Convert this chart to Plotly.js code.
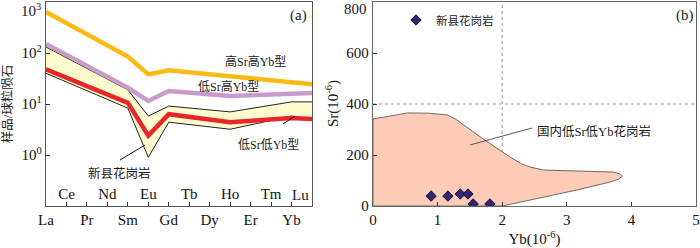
<!DOCTYPE html>
<html><head><meta charset="utf-8">
<script src="https://cdn.plot.ly/plotly-3.0.1.min.js"></script>
<style>html,body{margin:0;padding:0;background:#fff}#chart{width:700px;height:248px}</style>
</head><body><div id="chart"></div>
<script>
// ---- Panel (a): chondrite-normalised REE patterns ----
const elements = ['La','Ce','Pr','Nd','Sm','Eu','Gd','Tb','Dy','Ho','Er','Tm','Yb','Lu'];
const bottomLabels = ['La','Pr','Sm','Gd','Dy','Er','Yb'];
const insideLabels = ['Ce','Nd','Eu','Tb','Ho','Tm','Lu'];
const yTickVals = [0.1, 1, 10, 100, 1000];
const yTickText = ['10<sup>-1</sup>','10<sup>0</sup>','10<sup>1</sup>','10<sup>2</sup>',''];
const yTopLabel = '10<sup>3</sup>';

const highSrHighYbEl = ['La','Sm','Eu','Gd','Lu'];
const highSrHighYbVal = [640, 85, 38, 46, 24.5];
const lowSrHighYbEl = ['La','Sm','Eu','Gd','Ho','Lu'];
const lowSrHighYbVal = [150, 21, 11.5, 18, 14.4, 16.5];
const bandUpperEl = ['La','Sm','Eu','Gd','Ho','Yb','Lu'];
const bandUpperVal = [131, 19, 5.8, 9.1, 7.0, 11, 11];
const bandLowerEl = ['La','Sm','Eu','Gd','Ho','Yb','Lu'];
const bandLowerVal = [40, 8.3, 0.9, 4.4, 3.2, 5.8, 4.8];
const lowSrLowYbEl = ['La','Sm','Eu','Gd','Ho','Yb','Lu'];
const lowSrLowYbVal = [48, 10.5, 2.4, 6.3, 4.4, 5.3, 5.1];

// ---- Panel (b): Sr vs Yb ----
const srTickVals = [0, 200, 400, 600, 800];
const srTickText = ['0', '200', '400', '600', ''];
const srTopLabel = '800';
const xinxianYb = [0.90, 1.16, 1.35, 1.47, 1.55, 1.81];
const xinxianSr = [39, 39, 47, 47, 8, 8];
const domesticYb = [0, 0, 0.25, 0.53, 0.85, 1.16, 1.30, 1.50, 1.75, 1.97, 2.12, 2.30, 2.43, 2.64, 3.10, 3.72, 3.83, 3.86, 3.80, 3.67, 3.16, 2.64, 2.12, 2.00, 0];
const domesticSr = [0, 341, 352, 365, 364, 357, 337, 300, 255, 218, 192, 165, 153, 141, 137, 133, 125, 117, 105, 94, 63, 35, 8, 0, 0];

const idx = el => elements.indexOf(el);
const serif = 'Liberation Serif, Noto Sans CJK SC, serif';
const cjk = 'Liberation Serif, Noto Sans CJK SC, sans-serif';
const W = 700, PT = 2, PB = 206;
const px = x => x / W;
const py = y => (PB - y) / (PB - PT);

const lastInside = insideLabels[insideLabels.length - 1];
const insideText = insideLabels.map(l => l === lastInside ? '' : l);

const upX = bandUpperEl.map(idx), loX = bandLowerEl.map(idx);
const traces = [
  {x: upX.concat(loX.slice().reverse()), y: bandUpperVal.concat(bandLowerVal.slice().reverse()),
   xaxis:'x', yaxis:'y', mode:'lines', fill:'toself', fillcolor:'#FFFCCF', line:{width:0}, hoverinfo:'skip', showlegend:false},
  {x: upX, y: bandUpperVal, xaxis:'x', yaxis:'y', mode:'lines', line:{color:'#222', width:1}, showlegend:false},
  {x: loX, y: bandLowerVal, xaxis:'x', yaxis:'y', mode:'lines', line:{color:'#222', width:1}, showlegend:false},
  {x: lowSrHighYbEl.map(idx), y: lowSrHighYbVal, xaxis:'x', yaxis:'y', mode:'lines', line:{color:'#C99BCB', width:4.5}, showlegend:false},
  {x: highSrHighYbEl.map(idx), y: highSrHighYbVal, xaxis:'x', yaxis:'y', mode:'lines', line:{color:'#FDB913', width:4.5}, showlegend:false},
  {x: lowSrLowYbEl.map(idx), y: lowSrLowYbVal, xaxis:'x3', yaxis:'y', mode:'lines', line:{color:'#E8262A', width:4.5}, showlegend:false},
  {x: domesticYb, y: domesticSr, xaxis:'x2', yaxis:'y2', mode:'lines', fill:'toself', fillcolor:'#FDCBB6',
   line:{color:'#6a6a6a', width:1}, showlegend:false, hoverinfo:'skip'},
  {x: xinxianYb, y: xinxianSr, xaxis:'x2', yaxis:'y2', mode:'markers', name:'新县花岗岩',
   marker:{symbol:'diamond', size:8, color:'#35236F', line:{color:'#1a1040', width:1}}, showlegend:true}
];

const axisBase = {linecolor:'#555', linewidth:1.3, mirror:true, ticks:'inside', ticklen:4, tickcolor:'#333',
  showgrid:false, zeroline:false, tickfont:{family:serif, size:15, color:'#111'}};

function note(text, x, y, size, family, xanchor, extra) {
  return Object.assign({text:text, x:px(x), y:py(y), xref:'paper', yref:'paper', xanchor:xanchor || 'center',
    yanchor:'middle', showarrow:false, font:{family:family, size:size, color:'#1a1a1a'}}, extra || {});
}

const layout = {
  width:700, height:248, margin:{l:0, r:0, t:PT, b:248-PB}, paper_bgcolor:'#fff', plot_bgcolor:'#fff',
  showlegend:true,
  legend:{x:px(396), y:py(20), xanchor:'left', yanchor:'middle', bgcolor:'rgba(0,0,0,0)',
          font:{family:cjk, size:11.5, color:'#222'}},
  xaxis: Object.assign({}, axisBase, {domain:[px(46), px(312)], range:[0,13], anchor:'y',
          tickvals: bottomLabels.map(idx), ticktext: bottomLabels}),
  xaxis3: Object.assign({}, axisBase, {domain:[px(46), px(312)], range:[0,13], anchor:'y', overlaying:'x',
          side:'bottom', showline:false, mirror:false, tickvals: insideLabels.map(idx), ticktext: insideText,
          ticklabelposition:'inside'}),
  yaxis: Object.assign({}, axisBase, {type:'log', range:[-1,3], domain:[0,1], anchor:'x',
          tickvals:yTickVals, ticktext:yTickText,
          title:{text:'样品/球粒陨石', font:{family:cjk, size:12.5, color:'#222'}, standoff:8}}),
  xaxis2: Object.assign({}, axisBase, {domain:[px(373), px(696)], range:[0,5], dtick:1, anchor:'y2', linecolor:'#666',
          title:{text:'Yb(10<sup>-6</sup>)', font:{family:serif, size:15, color:'#111'}, standoff:6}}),
  yaxis2: Object.assign({}, axisBase, {range:[0,800], tickvals:srTickVals, ticktext:srTickText, domain:[0,1], anchor:'x2', linecolor:'#666'}),
  shapes:[
    {type:'line', xref:'x2', yref:'y2', x0:2, x1:2, y0:0, y1:800, line:{color:'#999', width:1, dash:'dot'}, layer:'below'},
    {type:'line', xref:'x2', yref:'y2', x0:0, x1:5, y0:400, y1:400, line:{color:'#999', width:1, dash:'dot'}, layer:'below'},
    {type:'line', xref:'paper', yref:'paper', x0:px(120), y0:py(160), x1:px(145), y1:py(145), line:{color:'#111', width:1}},
    {type:'line', xref:'paper', yref:'paper', x0:px(283), y0:py(124), x1:px(295), y1:py(116), line:{color:'#111', width:1}},
    {type:'line', xref:'paper', yref:'paper', x0:px(470), y0:py(145), x1:px(532), y1:py(128), line:{color:'#555', width:1}}
  ],
  annotations:[
    note(yTopLabel, 43, 10, 15, serif, 'right'),
    note(srTopLabel, 369, 9, 15, serif, 'right'),
    note(lastInside, 300, 195, 15, serif),
    note('Sr(10<sup>-6</sup>)', 332, 104, 15, serif, 'center', {textangle:-90}),
    note('高Sr高Yb型', 255, 62, 12, cjk),
    note('低Sr高Yb型', 228, 87, 12, cjk),
    note('低Sr低Yb型', 268, 145, 12, cjk),
    note('新县花岗岩', 119, 173, 12.5, cjk),
    note('(a)', 298, 15, 15, serif),
    note('(b)', 685, 15, 15, serif),
    note('国内低Sr低Yb花岗岩', 535, 131, 12.5, cjk, 'left')
  ]
};

Plotly.newPlot('chart', traces, layout, {staticPlot:true, displayModeBar:false});
</script></body></html>
